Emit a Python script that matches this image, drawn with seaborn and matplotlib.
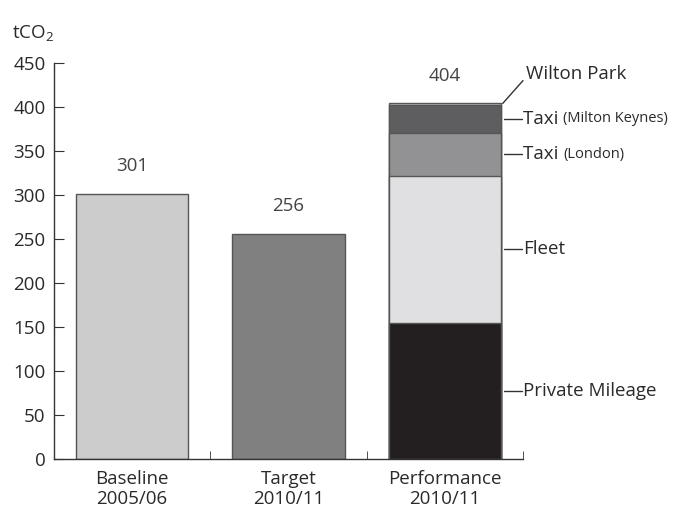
import matplotlib
matplotlib.use("Agg")
import matplotlib.pyplot as plt
import numpy as np
import pandas as pd
import seaborn as sns

# Data
categories = ["Baseline\n2005/06", "Target\n2010/11", "Performance\n2010/11"]
single_values = [301, 256]
single_colors = ["#cccccc", "#808080"]
total_labels = [301, 256, 404]

segments = ["Private Mileage", "Fleet", "Taxi (London)", "Taxi (Milton Keynes)", "Wilton Park"]
segment_values = [155, 167, 49, 31, 2]
segment_colors = ["#231f20", "#e0e0e2", "#929294", "#5e5e60", "#bdbdbf"]

sns.set_style("ticks")
plt.rcParams["font.family"] = ["Open Sans", "DejaVu Sans"]
plt.rcParams["mathtext.default"] = "regular"
text_color = "#2a2a2a"
fs = 13.5

fig = plt.figure(figsize=(6.78, 5.09), dpi=100)
ax = fig.add_axes([54 / 678, 1 - 459 / 509, (523 - 54) / 678, (459 - 63) / 509])

edge = "#555555"
bar_w = 0.72

# Baseline and target
df_single = pd.DataFrame({"cat": categories[:2], "val": single_values})
sns.barplot(data=df_single, x="cat", y="val", hue="cat", palette=single_colors,
            order=categories, width=bar_w, edgecolor=edge, linewidth=1,
            legend=False, ax=ax)

# Stacked performance bar: draw cumulative totals from top down
cum = np.cumsum(segment_values)
for i in range(len(segments) - 1, -1, -1):
    df_seg = pd.DataFrame({"cat": [categories[2]], "val": [cum[i]]})
    sns.barplot(data=df_seg, x="cat", y="val", color=segment_colors[i],
                order=categories, width=bar_w, edgecolor=edge, linewidth=1,
                saturation=1, ax=ax)

# Value labels above bars
for xi, v in enumerate(total_labels):
    ax.annotate(str(v), (xi, v), xytext=(0, 16.5), textcoords="offset points",
                ha="center", va="baseline", fontsize=fs, color="#444444")

# Segment annotations
right = 2 + bar_w / 2
mids = cum - np.array(segment_values) / 2
for i in range(4):
    ax.plot([right + 0.02, right + 0.135], [mids[i], mids[i]], color="#333333",
            lw=1, clip_on=False)
for i, name in enumerate(segments[:4]):
    if "(" in name:
        main, sub = name.split(" ", 1)
        t = ax.text(right + 0.14, mids[i], main + " ", va="center", ha="left",
                    fontsize=fs, color=text_color, clip_on=False)
        ax.annotate(sub, xycoords=t, xy=(1, 0.5), va="center", ha="left",
                    fontsize=10.5, color=text_color, annotation_clip=False)
    else:
        ax.text(right + 0.14, mids[i], name, va="center", ha="left",
                fontsize=fs, color=text_color, clip_on=False)

# Wilton Park leader
ax.plot([right + 0.01, right + 0.14], [cum[-1], 430], color="#333333", lw=1,
        clip_on=False)
ax.text(right + 0.16, 437, segments[4], va="center", ha="left", fontsize=fs,
        color=text_color, clip_on=False)

# Axes styling
ax.set_xlim(-0.5, 2.5)
ax.set_ylim(0, 450)
ax.set_yticks(np.arange(0, 451, 50))
ax.set_xticks(range(3))
ax.set_xticklabels(categories, linespacing=1.1)
ax.set_xticks([0.5, 1.5, 2.5], minor=True)
ax.tick_params(axis="x", which="major", length=0, pad=8, labelsize=fs,
               labelcolor=text_color)
ax.tick_params(axis="x", which="minor", direction="in", length=6, color="#333333")
ax.tick_params(axis="y", direction="in", length=7, pad=6, labelsize=fs,
               labelcolor=text_color, color="#333333")
ax.set_xlabel("")
ax.set_ylabel("")
sns.despine(ax=ax)
for s in ["left", "bottom"]:
    ax.spines[s].set_color("#333333")
    ax.spines[s].set_linewidth(1)

fig.text(12 / 678, 1 - 38 / 509, "tCO$_2$", fontsize=fs, color=text_color,
         ha="left", va="baseline")

fig.savefig("out.png", dpi=100)
